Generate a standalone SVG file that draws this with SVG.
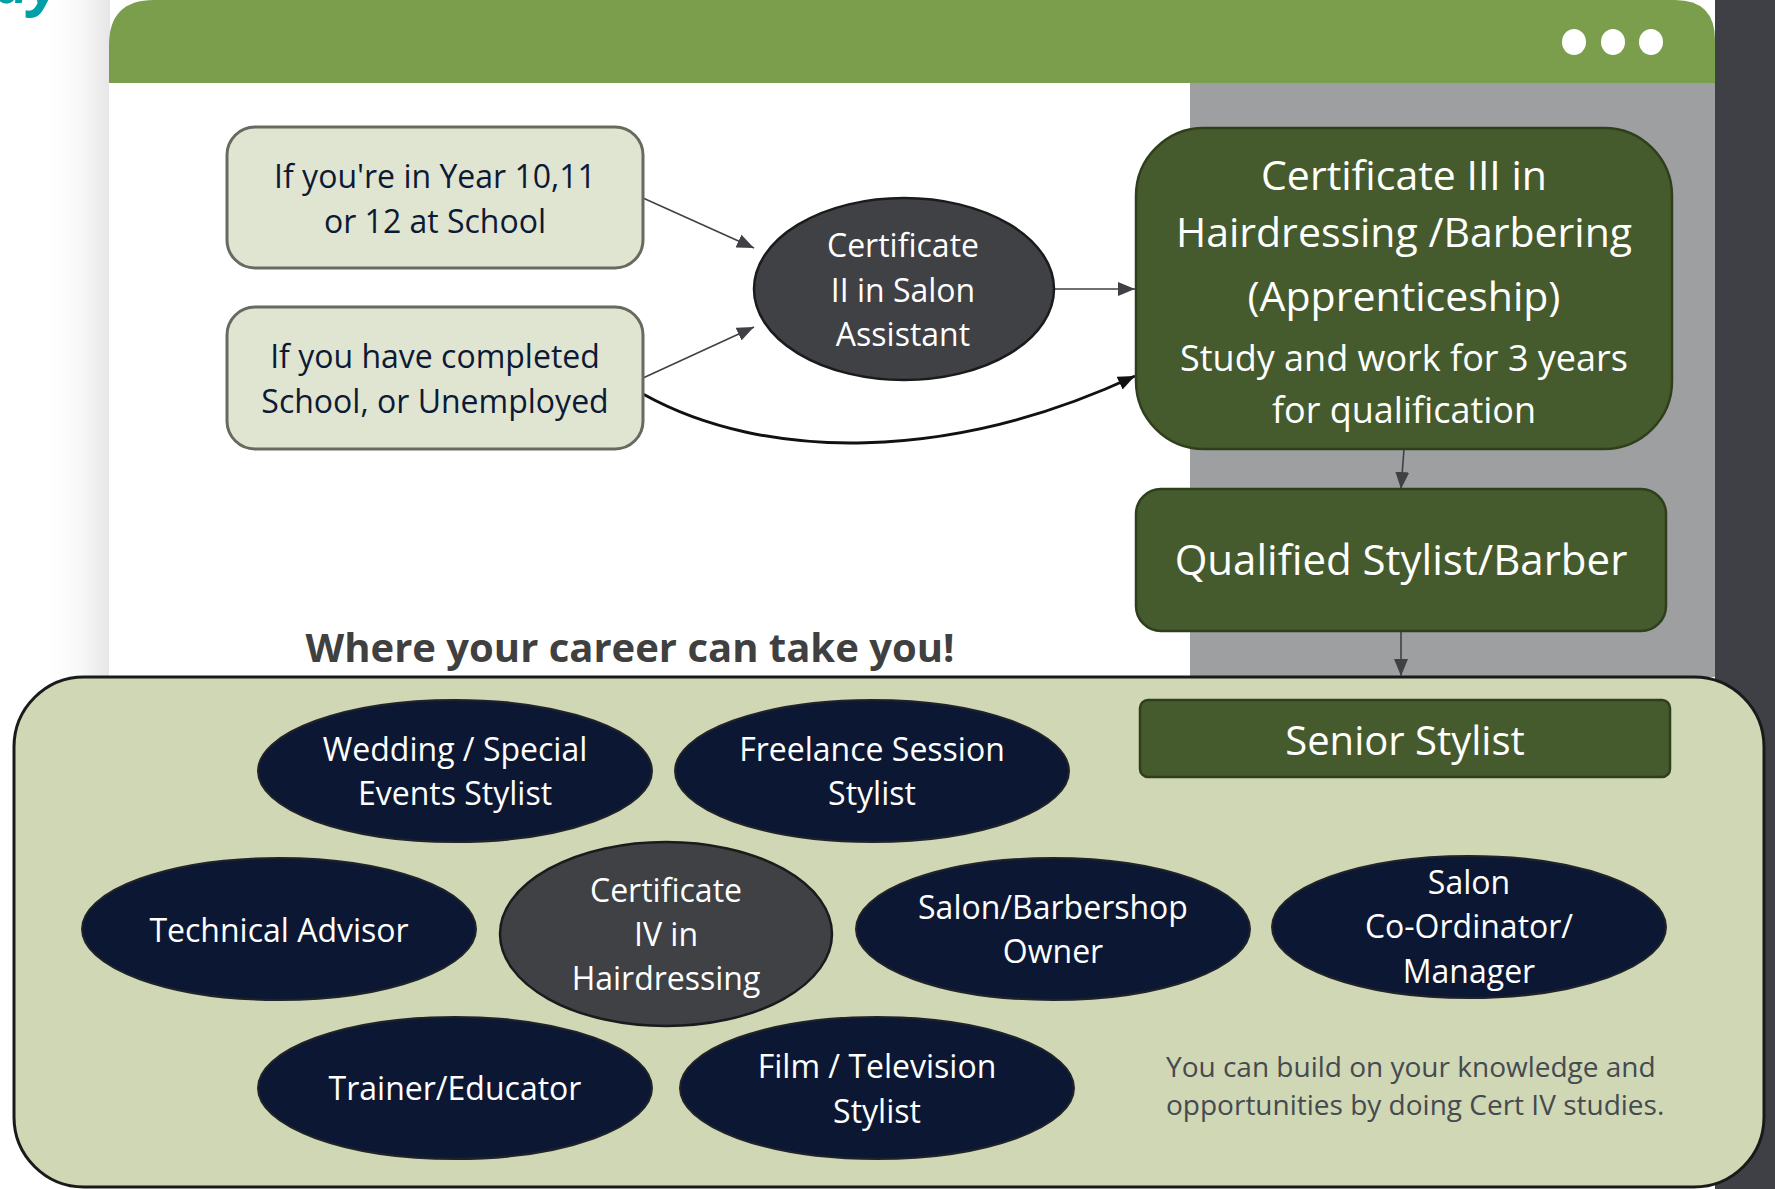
<svg xmlns="http://www.w3.org/2000/svg" width="1775" height="1189" viewBox="0 0 1775 1189">
<defs>
<linearGradient id="shadowL" x1="0" y1="0" x2="1" y2="0">
<stop offset="0" stop-color="#ffffff"/>
<stop offset="0.55" stop-color="#f7f7f7"/>
<stop offset="1" stop-color="#e6e6e6"/>
</linearGradient>
<marker id="ah" viewBox="0 0 17 14" refX="17" refY="7" markerWidth="17" markerHeight="14" markerUnits="userSpaceOnUse" orient="auto">
<path d="M0,0 L17,7 L0,14 z" fill="#404145"/>
</marker>
<marker id="ahk" viewBox="0 0 17 14" refX="17" refY="7" markerWidth="17" markerHeight="14" markerUnits="userSpaceOnUse" orient="auto">
<path d="M0,0 L17,7 L0,14 z" fill="#111111"/>
</marker>
</defs>
<style>
text{font-family:"Open Sans","Noto Sans","Liberation Sans",sans-serif;text-anchor:middle}
.lt{fill:#0d1a35;font-size:32px}
.wt{fill:#ffffff;font-size:32px}
.navy{fill:#0c1833;stroke:#20242a;stroke-width:2}
.grey{fill:#404145;stroke:#1b1b1d;stroke-width:2.5}
.light{fill:#e0e5d1;stroke:#686a60;stroke-width:3}
.olive{fill:#465b2d;stroke:#2f3f1c;stroke-width:2.5}
.thin{fill:none;stroke:#404145;stroke-width:1.6;marker-end:url(#ah)}
</style>
<rect x="0" y="0" width="1775" height="1189" fill="#ffffff"/>
<text x="-6" y="3" style="font-size:60px;font-weight:bold;font-style:italic;text-anchor:start;fill:#00a0a6">ay</text>
<rect x="50" y="0" width="60" height="690" fill="url(#shadowL)"/>
<rect x="1715" y="0" width="60" height="1189" fill="#3f4045"/>
<rect x="109" y="83" width="1081" height="594" fill="#ffffff"/>
<rect x="1190" y="83" width="525" height="594" fill="#9e9fa1"/>
<path d="M109,83 L109,45 Q109,0 154,0 L1675,0 Q1715,0 1715,40 L1715,83 Z" fill="#7a9e4c"/>
<ellipse cx="1574" cy="42" rx="12" ry="13" fill="#ffffff"/>
<ellipse cx="1613" cy="42" rx="12" ry="13" fill="#ffffff"/>
<ellipse cx="1651" cy="42" rx="12" ry="13" fill="#ffffff"/>
<text x="630" y="662" style="font-size:40px;font-weight:bold;fill:#404040">Where your career can take you!</text>
<rect x="14" y="677" width="1750" height="510" rx="70" ry="70" fill="#cfd7b5" stroke="#1a1a1a" stroke-width="3"/>
<g id="connectors">
<line class="thin" x1="643" y1="198" x2="754" y2="248"/>
<line class="thin" x1="643" y1="378" x2="754" y2="327"/>
<line class="thin" x1="1054" y1="289" x2="1135" y2="289"/>
<path d="M643,394 C765,462 950,462 1135,376" fill="none" stroke="#111111" stroke-width="3" marker-end="url(#ahk)"/>
<line class="thin" x1="1404" y1="449" x2="1401" y2="489"/>
<line class="thin" x1="1401" y1="631" x2="1401" y2="676"/>
</g>
<g id="n-year">
<rect class="light" x="227" y="127" width="416" height="141" rx="28"/>
<text class="lt" x="435" y="188">If you're in Year 10,11</text>
<text class="lt" x="435" y="233">or 12 at School</text>
</g>
<g id="n-completed">
<rect class="light" x="227" y="307" width="416" height="142" rx="28"/>
<text class="lt" x="435" y="368">If you have completed</text>
<text class="lt" x="435" y="413">School, or Unemployed</text>
</g>
<g id="n-cert2">
<ellipse class="grey" cx="904" cy="289" rx="150" ry="91"/>
<text class="wt" x="903" y="257">Certificate</text>
<text class="wt" x="903" y="302">II in Salon</text>
<text class="wt" x="903" y="346">Assistant</text>
</g>
<g id="n-cert3">
<rect class="olive" x="1136" y="128" width="536" height="321" rx="68"/>
<text class="wt" x="1404" y="190" style="font-size:41px">Certificate III in</text>
<text class="wt" x="1404" y="247" style="font-size:41px">Hairdressing /Barbering</text>
<text class="wt" x="1404" y="311" style="font-size:41px">(Apprenticeship)</text>
<text class="wt" x="1404" y="371" style="font-size:36px">Study and work for 3 years</text>
<text class="wt" x="1404" y="423" style="font-size:36px">for qualification</text>
</g>
<g id="n-qualified">
<rect class="olive" x="1136" y="489" width="530" height="142" rx="25"/>
<text class="wt" x="1401" y="575" style="font-size:42px">Qualified Stylist/Barber</text>
</g>
<g id="n-senior">
<rect class="olive" x="1140" y="700" width="530" height="77" rx="8"/>
<text class="wt" x="1405" y="755" style="font-size:40px">Senior Stylist</text>
</g>
<g id="n-wedding">
<ellipse class="navy" cx="455" cy="771" rx="197" ry="71"/>
<text class="wt" x="455" y="761">Wedding / Special</text>
<text class="wt" x="455" y="805">Events Stylist</text>
</g>
<g id="n-freelance">
<ellipse class="navy" cx="872" cy="771" rx="197" ry="71"/>
<text class="wt" x="872" y="761">Freelance Session</text>
<text class="wt" x="872" y="805">Stylist</text>
</g>
<g id="n-technical">
<ellipse class="navy" cx="279" cy="929" rx="197" ry="71"/>
<text class="wt" x="279" y="942">Technical Advisor</text>
</g>
<g id="n-cert4">
<ellipse class="grey" cx="666" cy="934" rx="166" ry="92"/>
<text class="wt" x="666" y="902">Certificate</text>
<text class="wt" x="666" y="946">IV in</text>
<text class="wt" x="666" y="990">Hairdressing</text>
</g>
<g id="n-owner">
<ellipse class="navy" cx="1053" cy="929" rx="197" ry="71"/>
<text class="wt" x="1053" y="919">Salon/Barbershop</text>
<text class="wt" x="1053" y="963">Owner</text>
</g>
<g id="n-coordinator">
<ellipse class="navy" cx="1469" cy="927" rx="197" ry="71"/>
<text class="wt" x="1469" y="894">Salon</text>
<text class="wt" x="1469" y="938">Co-Ordinator/</text>
<text class="wt" x="1469" y="983">Manager</text>
</g>
<g id="n-trainer">
<ellipse class="navy" cx="455" cy="1088" rx="197" ry="71"/>
<text class="wt" x="455" y="1100">Trainer/Educator</text>
</g>
<g id="n-film">
<ellipse class="navy" cx="877" cy="1088" rx="197" ry="71"/>
<text class="wt" x="877" y="1078">Film / Television</text>
<text class="wt" x="877" y="1123">Stylist</text>
</g>
<g id="note">
<text x="1166" y="1077" style="font-size:28px;fill:#454a4f;text-anchor:start">You can build on your knowledge and</text>
<text x="1166" y="1115" style="font-size:28px;fill:#454a4f;text-anchor:start">opportunities by doing Cert IV studies.</text>
</g>
</svg>
